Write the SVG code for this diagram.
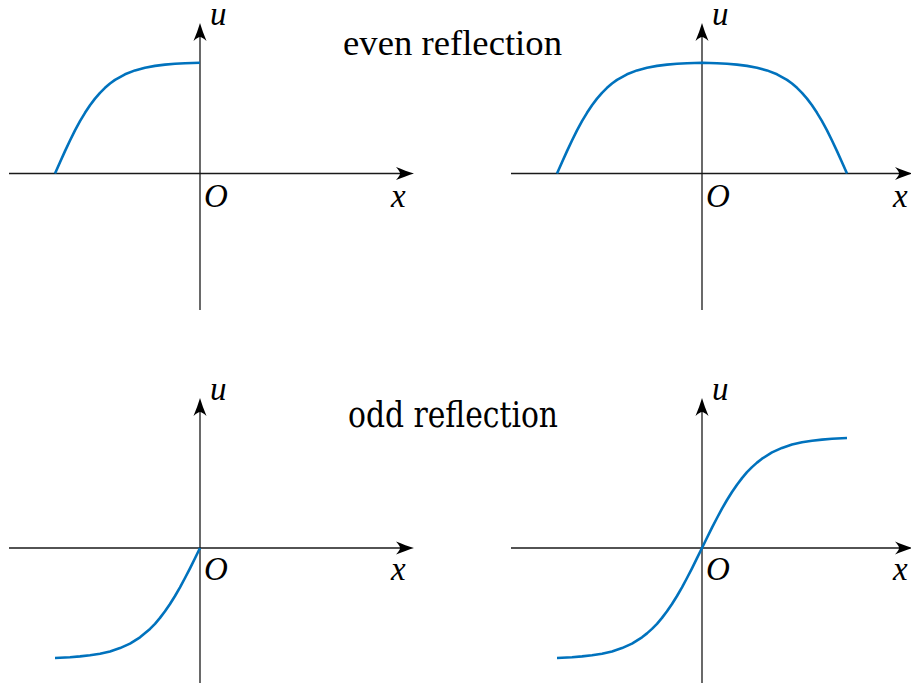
<svg xmlns="http://www.w3.org/2000/svg" xmlns:xlink="http://www.w3.org/1999/xlink" width="911" height="683" viewBox="0 0 911 683">
<style>
.ax{stroke:#1a1a1a;stroke-width:1.3;fill:none}
.cv{stroke:#0072BD;stroke-width:2.6;fill:none;stroke-linejoin:round;stroke-linecap:butt}
.lb{font-family:'Liberation Serif','DejaVu Serif',serif;font-style:italic;font-size:33px;fill:#000}
.tt{font-size:35px;fill:#000}
</style>
<defs>
<path id="ah" d="M0,0 C-5,-1.5 -12,-4 -18,-6.5 C-15,-3 -14,-1.5 -14,0 C-14,1.5 -15,3 -18,6.5 C-12,4 -5,1.5 0,0 Z" fill="#000"/>
</defs>
<rect width="911" height="683" fill="#fff"/>

<g id="panel-top-left">
<line class="ax" x1="9" y1="173.5" x2="400" y2="173.5"/>
<line class="ax" x1="200" y1="310" x2="200" y2="37"/>
<use xlink:href="#ah" transform="translate(414,173.5)"/>
<use xlink:href="#ah" transform="translate(200,23) rotate(-90)"/>
<polyline class="cv" points="55,173.5 60,162.2 65,151.1 70,140.5 75,130.4 80,121.2 85,112.8 90,105.3 95,98.6 100,92.8 105,87.8 110,83.5 115,79.9 125,74.3 135,70.4 145,67.7 155,65.9 165,64.6 175,63.8 185,63.3 200,62.8"/>
<text class="lb" x="210" y="25">u</text>
<text class="lb" x="204" y="207">O</text>
<text class="lb" x="391" y="207">x</text>
</g>

<g id="panel-top-right">
<line class="ax" x1="511" y1="173.5" x2="899" y2="173.5"/>
<line class="ax" x1="702" y1="310" x2="702" y2="37"/>
<use xlink:href="#ah" transform="translate(913,173.5)"/>
<use xlink:href="#ah" transform="translate(702,23) rotate(-90)"/>
<polyline class="cv" points="557,173.5 562,162.2 567,151.1 572,140.5 577,130.4 582,121.2 587,112.8 592,105.3 597,98.6 602,92.8 607,87.8 612,83.5 617,79.9 627,74.3 637,70.4 647,67.7 657,65.9 667,64.6 677,63.8 687,63.3 702,62.8 717,63.3 727,63.8 737,64.6 747,65.9 757,67.7 767,70.4 777,74.3 787,79.9 792,83.5 797,87.8 802,92.8 807,98.6 812,105.3 817,112.8 822,121.2 827,130.4 832,140.5 837,151.1 842,162.2 847,173.5"/>
<text class="lb" x="712" y="25">u</text>
<text class="lb" x="706" y="207">O</text>
<text class="lb" x="893" y="207">x</text>
</g>

<g id="panel-bottom-left">
<line class="ax" x1="9" y1="548" x2="400" y2="548"/>
<line class="ax" x1="200" y1="683" x2="200" y2="412"/>
<use xlink:href="#ah" transform="translate(414,548)"/>
<use xlink:href="#ah" transform="translate(200,398) rotate(-90)"/>
<polyline class="cv" points="200,548 195,558.2 190,568.3 185,578 180,587.3 175,596 170,604 165,611.3 160,617.9 155,623.8 150,628.9 140,637.3 130,643.6 120,648.1 110,651.4 100,653.7 90,655.3 80,656.4 70,657.2 55,658"/>
<text class="lb" x="210" y="400">u</text>
<text class="lb" x="204" y="580">O</text>
<text class="lb" x="391" y="580">x</text>
</g>

<g id="panel-bottom-right">
<line class="ax" x1="511" y1="548" x2="899" y2="548"/>
<line class="ax" x1="702" y1="683" x2="702" y2="412"/>
<use xlink:href="#ah" transform="translate(913,548)"/>
<use xlink:href="#ah" transform="translate(702,398) rotate(-90)"/>
<polyline class="cv" points="557,658 572,657.2 582,656.4 592,655.3 602,653.7 612,651.4 622,648.1 632,643.6 642,637.3 647,633.4 652,628.9 657,623.8 662,617.9 667,611.3 672,604 677,596 682,587.3 687,578 692,568.3 697,558.2 702,548 707,537.8 712,527.7 717,518 722,508.7 727,500 732,492 737,484.7 742,478.1 747,472.2 752,467.1 757,462.6 762,458.7 772,452.4 782,447.9 792,444.6 802,442.3 812,440.7 822,439.6 832,438.8 847,438"/>
<text class="lb" x="712" y="400">u</text>
<text class="lb" x="706" y="580">O</text>
<text class="lb" x="893" y="580">x</text>
</g>

<g id="titles">
<text class="tt" style="font-family:'Liberation Serif',serif" x="343" y="55" textLength="219" lengthAdjust="spacingAndGlyphs">even reflection</text>
<text class="tt" style="font-family:'DejaVu Serif',serif" x="348" y="427" textLength="210" lengthAdjust="spacingAndGlyphs">odd reflection</text>
</g>
</svg>
